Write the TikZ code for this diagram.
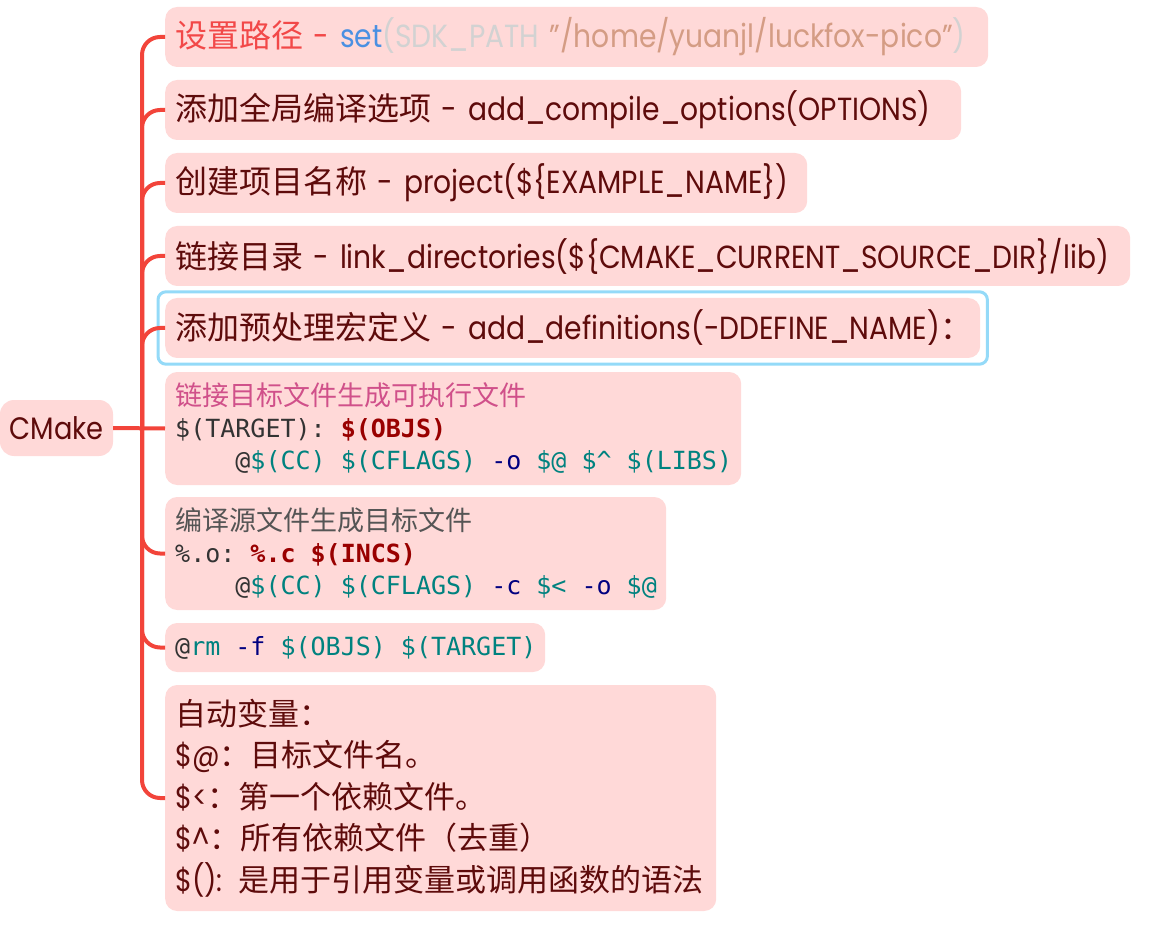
\documentclass[tikz,border=0pt]{standalone}
\usepackage{fontspec}
\setmainfont{Poppins}[FakeStretch=0.88]
\newfontfamily\cjk{Noto Sans CJK SC}
\setmonofont{DejaVu Sans Mono}
\usetikzlibrary{positioning}

\definecolor{boxpink}{HTML}{FFD9D8}
\definecolor{darkred}{HTML}{5E0B0B}
\definecolor{branchred}{HTML}{F2443A}
\definecolor{titlered}{HTML}{F24848}
\definecolor{setblue}{HTML}{4A90E2}
\definecolor{pathgray}{HTML}{D2D2D2}
\definecolor{strtan}{HTML}{D49C84}
\definecolor{codegray}{HTML}{333333}
\definecolor{codebold}{HTML}{990000}
\definecolor{codeteal}{HTML}{00827F}
\definecolor{codenavy}{HTML}{000080}
\definecolor{pinkhead}{HTML}{D0508A}
\definecolor{grayhead}{HTML}{555555}
\definecolor{hlblue}{HTML}{94DAF8}

% one monospace blank
\newcommand{\ks}{\hphantom{\texttt{0}}}

\begin{document}
\begin{tikzpicture}[
  x=1pt, y=-1pt,
  %--- node styles ---
  topic/.style={rounded corners=12pt, fill=boxpink, text=darkred, anchor=west,
    inner xsep=10pt, inner ysep=0pt, align=left, minimum height=60pt,
    font=\fontsize{32}{38}\selectfont},
  code/.style={topic, font=\fontsize{25}{32}\selectfont},
  root/.style={rounded corners=14pt, fill=boxpink, text=darkred, minimum width=113pt,
    minimum height=56pt, inner sep=0pt, font=\fontsize{31}{36}\selectfont},
  %--- connectors ---
  branch/.style={draw=branchred, line width=4pt, rounded corners=18pt},
  hilite/.style={draw=hlblue, line width=3pt, rounded corners=8pt}
]
\useasboundingbox (0,0) rectangle (1165,925);

%% ── ROOT ────────────────────────────────────────────────────────────────────
\node[root] (cmake) at (56.5,428) {CMake};
\coordinate (hub) at (142,428);

%% ── TOPICS ──────────────────────────────────────────────────────────────────
\node[topic, text width=803pt] (path) at (165,37)
  {{\cjk\color{titlered}设置路径}\textcolor{titlered}{\ -\ }\textcolor{setblue}{set}%
   \textcolor{pathgray}{(SDK\_PATH\ }\textcolor{strtan}{"/home/yuanjl/luckfox-pico"}%
   \textcolor{pathgray}{)}};

\node[topic, text width=776pt] (opts) at (165,110)
  {{\cjk 添加全局编译选项} - add\_compile\_options(OPTIONS)};

\node[topic, text width=622pt] (proj) at (165,183)
  {{\cjk 创建项目名称} - project(\$\{EXAMPLE\_NAME\})};

\node[topic, text width=945pt] (libdir) at (165,256)
  {{\cjk 链接目录} - link\_directories(\$\{CMAKE\_CURRENT\_SOURCE\_DIR\}/lib)};

\node[topic, text width=795pt] (defs) at (165,328)
  {\mbox{{\cjk 添加预处理宏定义} - add\_definitions(-DDEFINE\_NAME){\cjk ：}}};

\node[code, text width=556pt, minimum height=113pt] (target) at (165,428.5)
  {{\cjk\color{pinkhead}\fontsize{27}{32}\selectfont 链接目标文件生成可执行文件}\\
   \mbox{\texttt{\textcolor{codegray}{\$(TARGET):}\ks\textcolor{codebold}{\bfseries\$(OBJS)}}}\\
   \mbox{\texttt{\ks\ks\ks\ks\textcolor{codegray}{@}\textcolor{codeteal}{\$(CC)\ks\$(CFLAGS)}\ks
     \textcolor{codenavy}{-o}\ks\textcolor{codeteal}{\$@\ks\$\textasciicircum\ks\$(LIBS)}}}};

\node[code, text width=481pt, minimum height=113pt] (objrule) at (165,553.5)
  {{\cjk\color{grayhead}\fontsize{27}{32}\selectfont 编译源文件生成目标文件}\\
   \mbox{\texttt{\textcolor{codegray}{\%.o:}\ks\textcolor{codebold}{\bfseries\%.c\ks\$(INCS)}}}\\
   \mbox{\texttt{\ks\ks\ks\ks\textcolor{codegray}{@}\textcolor{codeteal}{\$(CC)\ks\$(CFLAGS)}\ks
     \textcolor{codenavy}{-c}\ks\textcolor{codeteal}{\$<}\ks\textcolor{codenavy}{-o}\ks
     \textcolor{codeteal}{\$@}}}};

\node[code, text width=360pt, minimum height=49pt] (cleanup) at (165,647.5)
  {\mbox{\texttt{\textcolor{codegray}{@}\textcolor{codeteal}{rm}\ks\textcolor{codenavy}{-f}\ks
     \textcolor{codeteal}{\$(OBJS)\ks\$(TARGET)}}}};

\node[topic, text width=531pt, minimum height=226pt,
  font=\fontsize{31}{41.5}\selectfont] (autovars) at (165,798)
  {{\cjk 自动变量：}\\
   \$@{\cjk ：目标文件名。}\\
   \$<{\cjk ：第一个依赖文件。}\\
   \$\textasciicircum{\cjk ：所有依赖文件（去重）}\\
   \$(): {\cjk 是用于引用变量或调用函数的语法}};

%% ── SELECTION FRAME ─────────────────────────────────────────────────────────
\draw[hilite] ([xshift=-7pt,yshift=6pt]defs.north west)
  rectangle ([xshift=7pt,yshift=-6pt]defs.south east);

%% ── CONNECTORS ──────────────────────────────────────────────────────────────
\draw[branch] (cmake.east) -- (target.west);
\foreach \n in {path,opts,proj,libdir,defs,objrule,cleanup,autovars}
  \draw[branch] (hub) |- (\n.west);
\end{tikzpicture}
\end{document}
